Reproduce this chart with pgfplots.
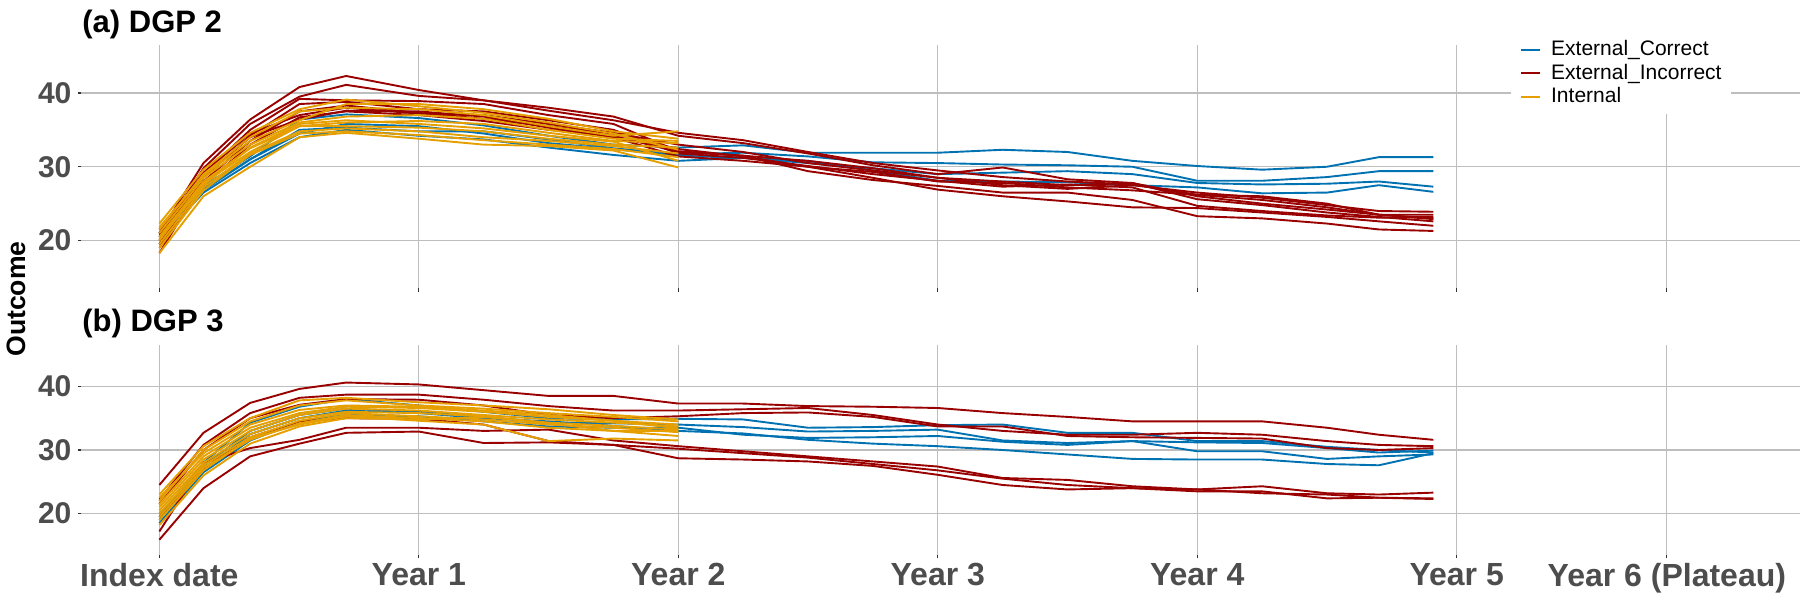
\documentclass[border=0pt]{standalone}
\usepackage{fontspec}
\setmainfont{Liberation Sans}
\usepackage{pgfplots}
\usepackage{pgfplotstable}
\pgfplotsset{compat=1.18}
\definecolor{cBlue}{RGB}{0,114,178}
\definecolor{cRed}{RGB}{153,0,0}
\definecolor{cOrange}{RGB}{230,159,0}
\definecolor{cGrid}{RGB}{190,190,190}
\definecolor{cTick}{RGB}{77,77,77}

% ---------- panel (a) DGP 2 ----------
\pgfplotstableread{
t r1 r2 r3 r4 r5 r6 r7 r8
0    21.0 20.5 20.0 19.5 18.3 19.0 20.8 21.5
0.17 30.5 29.8 29.0 28.5 28.0 27.5 29.2 28.8
0.35 36.4 35.8 35.0 34.2 33.5 33.0 34.5 34.0
0.54 40.8 39.5 39.2 38.5 37.5 36.7 37.0 36.4
0.72 42.3 41.1 39.0 38.8 38.3 37.5 38.0 37.6
1.0  40.4 39.6 38.9 37.8 37.3 37.0 37.2 37.5
1.25 39.0 39.0 38.5 37.5 36.5 36.2 37.0 36.8
1.5  37.6 38.0 37.0 36.3 35.5 35.0 35.8 35.3
1.75 36.3 36.8 35.8 35.0 34.5 34.2 34.6 34.0
2.0  34.6 34.2 32.1 31.8 32.4 32.0 33.0 31.4
2.25 33.6 33.2 31.5 31.2 31.4 31.5 32.0 30.8
2.5  32.0 31.8 30.8 30.1 30.0 29.4 30.5 30.0
2.75 30.5 30.2 29.8 29.0 28.5 28.2 29.5 29.3
3.0  29.5 29.0 28.5 28.1 26.9 27.4 28.5 28.0
3.25 28.6 29.9 27.5 27.3 26.0 26.5 28.0 27.8
3.5  28.0 28.3 27.0 27.6 25.3 26.5 27.5 27.2
3.75 27.6 27.8 27.5 27.2 24.5 25.5 27.8 26.8
4.0  26.2 25.6 26.5 24.7 24.4 23.3 26.0 26.2
4.25 25.5 24.8 25.8 24.0 23.8 23.0 25.0 26.0
4.5  24.5 23.8 24.8 23.4 23.2 22.3 24.2 25.0
4.7  23.5 23.2 24.0 23.1 22.6 21.5 23.5 23.5
4.91 23.0 22.6 23.9 23.2 22.0 21.3 22.9 23.5
}\redA

\pgfplotstableread{
t b1 b2 b3 b4
0    21.0 20.5 20.0 19.5
0.17 27.4 27.0 26.5 26.8
0.35 31.4 31.0 30.5 31.0
0.54 36.4 35.0 34.0 34.5
0.72 37.1 35.3 35.0 35.8
1.0  36.6 34.8 34.2 35.5
1.25 35.6 34.8 33.7 34.5
1.5  34.2 33.7 32.6 33.2
1.75 33.0 32.5 31.6 32.4
2.0  32.6 31.7 30.8 31.5
2.25 32.9 31.9 31.2 31.2
2.5  31.9 31.4 30.5 30.8
2.75 31.9 30.6 29.8 29.5
3.0  31.9 30.5 29.0 28.1
3.25 32.3 30.3 29.2 28.0
3.5  32.0 30.2 29.4 27.9
3.75 30.8 30.0 29.0 27.5
4.0  30.1 28.1 27.8 27.2
4.25 29.6 28.1 27.6 26.4
4.5  30.0 28.6 27.7 26.5
4.7  31.3 29.4 28.0 27.5
4.91 31.3 29.4 27.3 26.6
}\blueA

\pgfplotstableread{
t o1 o2 o3 o4 o5 o6 o7 o8 o9 o10
0    22.3 21.5 21.0 20.5 20.0 19.5 19.0 18.3 21.8 20.2
0.17 29.6 29.0 28.5 28.0 27.8 27.2 26.8 26.0 28.8 27.5
0.35 34.6 34.0 33.0 32.5 32.0 31.8 31.6 30.0 33.5 32.6
0.54 37.8 37.5 36.0 35.5 35.5 34.8 34.5 34.0 36.3 35.8
0.72 39.1 38.0 36.8 36.0 35.5 35.2 34.8 34.6 38.5 36.3
1.0  38.2 37.8 37.0 36.2 35.3 34.8 34.3 33.8 38.5 35.8
1.25 37.3 37.0 36.5 35.8 34.8 34.0 33.6 33.0 37.8 35.2
1.5  36.0 35.5 35.0 34.6 33.8 33.5 33.0 32.8 36.5 34.2
1.75 34.5 34.2 33.8 33.5 33.0 32.8 32.4 32.2 34.8 33.4
2.0  32.3 34.8 33.5 33.2 32.6 31.8 31.3 29.9 33.8 30.8
}\orangeA

% ---------- panel (b) DGP 3 ----------
\pgfplotstableread{
t r1 r2 r3 r4 r5 r6
0    24.5 22.2 21.5 17.2 15.9 19.5
0.17 32.7 30.8 30.0 28.0 24.0 27.0
0.35 37.4 35.8 35.0 30.3 29.0 32.0
0.54 39.6 38.2 37.1 31.6 31.0 34.5
0.72 40.6 38.7 38.0 33.5 32.7 35.0
1.0  40.3 38.7 37.9 33.5 32.9 34.9
1.25 39.4 37.9 37.0 33.0 31.1 34.0
1.5  38.5 36.9 35.5 33.2 31.2 31.4
1.75 38.5 36.2 35.0 31.5 30.8 30.8
2.0  37.3 36.2 35.3 30.6 28.7 30.2
2.25 37.3 36.4 35.8 29.8 28.5 29.5
2.5  36.9 36.6 35.9 29.0 28.2 28.8
2.75 36.8 35.5 35.2 28.2 27.5 27.8
3.0  36.6 34.0 33.7 27.4 26.1 26.8
3.25 35.8 33.0 33.7 25.6 24.5 25.5
3.5  35.2 32.4 32.2 25.3 23.8 24.5
3.75 34.5 32.4 32.0 24.3 24.0 24.0
4.0  34.5 32.7 31.9 23.8 23.5 23.8
4.25 34.5 32.4 31.8 24.3 23.5 23.2
4.5  33.5 31.4 30.3 23.2 22.4 23.0
4.7  32.4 30.8 30.0 23.0 22.5 22.5
4.91 31.6 30.6 30.3 23.3 22.4 22.3
}\redB

\pgfplotstableread{
t b1 b2 b3 b4
0    19.5 19.0 18.5 20.0
0.17 28.0 27.5 26.5 27.0
0.35 34.3 33.0 31.5 32.5
0.54 36.8 35.5 34.5 35.0
0.72 38.0 36.5 35.5 36.2
1.0  37.0 36.0 35.3 35.8
1.25 36.0 35.2 34.5 35.0
1.5  35.0 34.3 33.7 34.5
1.75 34.8 34.2 33.5 33.8
2.0  34.9 34.0 33.5 33.0
2.25 34.8 33.6 32.4 32.6
2.5  33.5 32.9 31.9 31.6
2.75 33.6 33.0 32.0 31.0
3.0  33.9 33.2 32.2 30.6
3.25 34.0 31.5 31.3 30.0
3.5  32.7 31.1 30.8 29.3
3.75 32.7 31.4 31.4 28.6
4.0  31.4 31.2 29.8 28.5
4.25 31.4 31.1 29.8 28.5
4.5  30.5 30.3 28.6 27.8
4.7  30.0 29.6 29.0 27.6
4.91 29.6 29.9 29.3 29.5
}\blueB

\pgfplotstableread{
t o1 o2 o3 o4 o5 o6 o7 o8 o9 o10
0    23.0 22.0 21.5 21.0 20.5 20.0 19.5 19.0 18.2 22.5
0.17 30.6 30.0 29.0 28.5 28.0 27.6 27.2 26.8 26.0 29.5
0.35 35.0 34.5 33.5 33.0 32.5 32.0 31.6 31.8 31.0 34.0
0.54 37.8 37.0 35.8 35.5 35.0 34.6 34.2 34.0 33.7 36.3
0.72 38.2 37.8 36.8 36.5 36.0 35.8 35.5 35.3 35.0 37.0
1.0  37.5 37.0 36.6 36.2 35.8 35.3 35.0 34.6 34.8 36.8
1.25 37.0 36.5 36.0 35.5 35.3 34.8 34.5 34.0 35.2 36.2
1.5  36.4 35.8 35.2 34.8 34.3 34.0 33.5 31.4 34.2 35.5
1.75 35.5 35.2 34.6 34.3 33.8 33.5 33.0 31.8 33.0 34.6
2.0  34.8 34.5 34.0 33.7 33.2 32.8 32.2 31.5 33.0 33.4
}\orangeB

\pgfplotsset{
  panel/.style={
    scale only axis,
    width=859.5pt,
    xmin=-0.302, xmax=6.323,
    ymin=13.5, ymax=46.5,
    axis line style={draw=none},
    grid=major,
    grid style={cGrid, line width=0.55pt},
    xtick={0,1,2,3,4,5,5.81},
    ytick={20,30,40},
    tick align=outside,
    xtick pos=left,
    ytick pos=left,
    major tick length=1.6pt,
    tick style={draw=black!80, line width=0.55pt},
    /pgf/number format/assume math mode=true,
    yticklabel style={font=\fontsize{15pt}{17pt}\selectfont\bfseries, text=cTick,
      anchor=east, inner sep=0pt, xshift=-3pt},
    xticklabel style={font=\fontsize{16pt}{18pt}\selectfont\bfseries, text=cTick,
      anchor=north, inner sep=0pt, yshift=-2.5pt},
    every axis plot/.append style={line width=0.95pt, line join=round},
    clip=false,
  }
}

\begin{document}
\begin{tikzpicture}
\path[use as bounding box] (0pt,0pt) rectangle (900pt,300pt);

% ---------------- panel (a) ----------------
\begin{axis}[panel,
  height=121.75pt,
  at={(40.5pt,155.75pt)}, anchor=south west,
  xticklabels={},
  legend cell align=left,
  legend image code/.code={\draw[#1] (0pt,0.35pt) -- (9.5pt,0.35pt);},
  legend style={at={(0.8315,1.049)}, anchor=north west,
    draw=none, fill=white, inner xsep=4.7pt, inner ysep=2.5pt,
    font=\fontsize{10.5pt}{11.8pt}\selectfont,
    nodes={inner xsep=0pt, inner ysep=0.6pt, text height=8pt, text depth=2.6pt},
    /tikz/every odd column/.append style={column sep=5pt}},
]
\addlegendimage{cBlue, line width=1pt}
\addlegendentry{External\_Correct}
\addlegendimage{cRed, line width=1pt}
\addlegendentry{External\_Incorrect}
\addlegendimage{cOrange, line width=1pt}
\addlegendentry{Internal}
\pgfplotsinvokeforeach{1,2,3,4}{\addplot[cBlue, forget plot] table[x=t, y=b#1] {\blueA};}
\pgfplotsinvokeforeach{1,2,3,4,5,6,7,8}{\addplot[cRed, forget plot] table[x=t, y=r#1] {\redA};}
\pgfplotsinvokeforeach{1,2,3,4,5,6,7,8,9,10}{\addplot[cOrange, forget plot] table[x=t, y=o#1] {\orangeA};}
\end{axis}

% ---------------- panel (b) ----------------
\begin{axis}[panel,
  height=105pt,
  at={(40.5pt,22.5pt)}, anchor=south west,
  xticklabels={Index date, Year 1, Year 2, Year 3, Year 4, Year 5, Year 6 (Plateau)},
]
\pgfplotsinvokeforeach{1,2,3,4}{\addplot[cBlue, forget plot] table[x=t, y=b#1] {\blueB};}
\pgfplotsinvokeforeach{1,2,3,4,5,6}{\addplot[cRed, forget plot] table[x=t, y=r#1] {\redB};}
\pgfplotsinvokeforeach{1,2,3,4,5,6,7,8,9,10}{\addplot[cOrange, forget plot] table[x=t, y=o#1] {\orangeB};}
\end{axis}

% titles and axis label
\node[anchor=base west, inner sep=0pt, font=\fontsize{15.5pt}{18pt}\selectfont\bfseries] at (41pt,283.9pt) {(a) DGP 2};
\node[anchor=base west, inner sep=0pt, font=\fontsize{15.5pt}{18pt}\selectfont\bfseries] at (41pt,134.2pt) {(b) DGP 3};
\node[rotate=90, inner sep=0pt, font=\fontsize{13.3pt}{15pt}\selectfont\bfseries] at (8pt,150.5pt) {Outcome};
\end{tikzpicture}
\end{document}
